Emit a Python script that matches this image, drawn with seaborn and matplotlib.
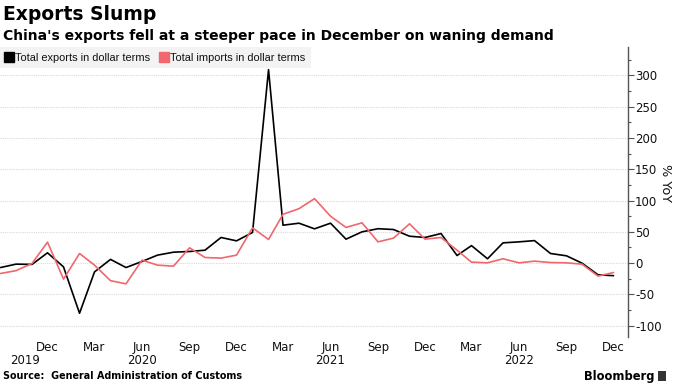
import matplotlib
matplotlib.use("Agg")
import matplotlib.pyplot as plt
import matplotlib.dates as mdates
from matplotlib.lines import Line2D
from matplotlib.ticker import MultipleLocator, FixedLocator
import matplotlib.transforms as mtransforms
import seaborn as sns
import pandas as pd
import numpy as np

months = pd.date_range("2019-09-01", "2022-12-01", freq="MS")
exports = [-7, -1.6, -2, 16.5, -6, -80, -14, 6, -7, 2.7, 12.8, 17.5, 18.6, 20.7, 41, 35.6,
           49, 309, 60.6, 63.8, 54.8, 63.8, 38.3, 50, 55, 53.7, 43, 41,
           47.3, 12.2, 28, 7, 32.4, 34, 36, 15.4, 11.7, 0, -18.6, -20]
imports = [-16.5, -12, -0.5, 33.5, -25.5, 15.4, -3.2, -28, -33, 4.8, -3.2, -4.8, 24.5, 9, 8, 12.8,
           56.4, 37.8, 78, 87, 103, 75, 57, 64.4, 34, 40, 62.8, 38.3,
           41, 20.7, 1.6, 0.5, 7, 0.5, 3.2, 1, 0.5, -1.6, -20.7, -15]
series_names = ["Total exports in dollar terms", "Total imports in dollar terms"]
colors = ["#000000", "#f0676d"]
yticks = [-100, -50, 0, 50, 100, 150, 200, 250, 300]
tick_months = pd.to_datetime(["2019-12-01", "2020-03-01", "2020-06-01", "2020-09-01", "2020-12-01",
                              "2021-03-01", "2021-06-01", "2021-09-01", "2021-12-01",
                              "2022-03-01", "2022-06-01", "2022-09-01", "2022-12-01"])
years = ["2019", "2020", "2021", "2022"]
year_pos = pd.to_datetime(["2019-10-18", "2020-06-01", "2021-06-01", "2022-06-01"])

df = pd.DataFrame({
    "date": np.concatenate([months, months]),
    "value": exports + imports,
    "series": [series_names[0]] * len(months) + [series_names[1]] * len(months),
})

sns.set_theme(style="white")
plt.rcParams["font.family"] = ["DejaVu Sans"]
plt.rcParams["text.color"] = "#000000"

fig = plt.figure(figsize=(6.8, 3.83), dpi=100)
ax = fig.add_axes([0.0, 0.12, 0.9235, 0.757])

sns.lineplot(data=df, x="date", y="value", hue="series", palette=colors,
             linewidth=1.2, ax=ax, legend=False)

ax.set_xlim(pd.Timestamp("2019-08-31"), pd.Timestamp("2022-12-29"))
ax.set_ylim(-118, 345)
ax.set_xlabel("")

for s in ["left", "top", "bottom"]:
    ax.spines[s].set_visible(False)
ax.spines["right"].set_color("#555555")
ax.spines["right"].set_linewidth(1.0)

ax.yaxis.tick_right()
ax.yaxis.set_major_locator(FixedLocator(yticks))
ax.yaxis.set_minor_locator(MultipleLocator(25))
ax.tick_params(axis="y", which="major", direction="out", length=4, width=0.8,
               color="#555555", labelsize=8.5, pad=1, labelcolor="#111111")
ax.tick_params(axis="y", which="minor", direction="out", length=2.5, width=0.8, color="#555555")
ax.set_yticklabels([str(v) for v in yticks])

ax.xaxis.set_major_locator(FixedLocator(mdates.date2num(tick_months)))
ax.set_xticklabels([d.strftime("%b") for d in tick_months])
ax.tick_params(axis="x", which="major", length=0, labelsize=8.5, pad=3, labelcolor="#111111")

ax.grid(axis="y", which="major", color="#d9d9d9", linestyle=(0, (1, 1)), linewidth=0.8)
ax.set_axisbelow(True)

trans = mtransforms.blended_transform_factory(ax.transData, ax.transAxes)
for yr, pos in zip(years, year_pos):
    ax.text(mdates.date2num(pos), -0.08, yr, transform=trans, ha="center", va="center",
            fontsize=8.5, color="#111111")

ax.set_ylabel("% YoY", fontsize=9.3, rotation=270, labelpad=12, color="#111111")
ax.yaxis.set_label_position("right")
ax.yaxis.set_label_coords(1.07, 0.53)

handles = [Line2D([0], [0], marker="s", linestyle="", markersize=6.5, color=c) for c in colors]
leg = ax.legend(handles, series_names, loc="upper left", bbox_to_anchor=(0.0, 1.0),
                frameon=True, fancybox=False, ncol=2, handlelength=0.6,
                handletextpad=0.3, columnspacing=0.9, borderpad=0.5, borderaxespad=0.0,
                prop={"family": "Liberation Sans", "size": 7.9})
leg.get_frame().set_facecolor("#f0f0f0")
leg.get_frame().set_edgecolor("none")
for t in leg.get_texts():
    t.set_color("#111111")

fig.text(0.004, 0.962, "Exports Slump", fontsize=13.5, fontweight="bold", ha="left", va="center",
         color="#000000")
fig.text(0.004, 0.905, "China's exports fell at a steeper pace in December on waning demand",
         fontsize=10, fontweight="bold", ha="left", va="center", color="#000000")
fig.text(0.004, 0.018, "Source:  General Administration of Customs", fontsize=6.9,
         fontweight="bold", ha="left", va="center", color="#000000")
fig.text(0.963, 0.018, "Bloomberg", fontsize=8.3, fontweight="bold", ha="right", va="center",
         color="#000000")
fig.patches.append(plt.Rectangle((0.967, 0.006), 0.012, 0.026, transform=fig.transFigure,
                                 facecolor="#333333", edgecolor="none"))

fig.savefig("out.png", dpi=100)
